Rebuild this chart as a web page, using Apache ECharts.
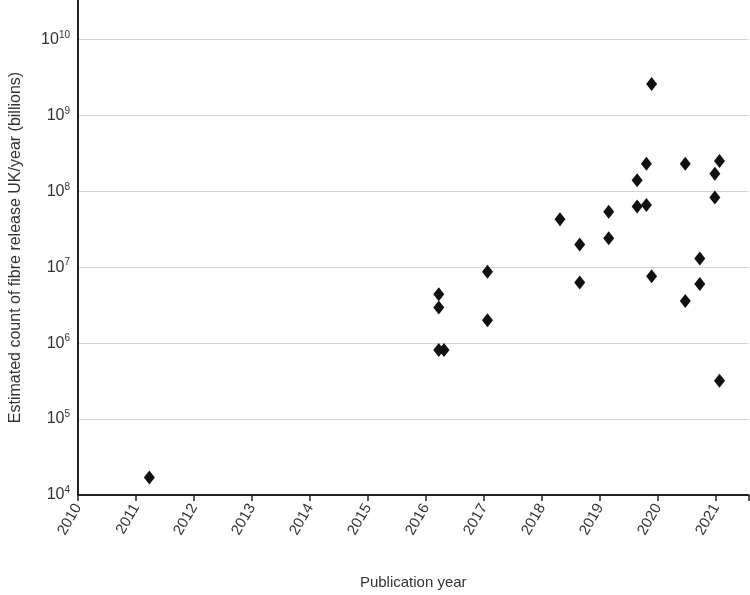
<!DOCTYPE html>
<html><head><meta charset="utf-8">
<script src="https://cdn.jsdelivr.net/npm/echarts@6/dist/echarts.min.js"></script>
<style>html,body{margin:0;padding:0;background:#fff}#c{width:750px;height:595px}</style>
</head><body><div id="c"></div>
<script>
const years = [2011.23,2016.22,2016.22,2016.22,2016.31,2017.06,2017.06,2018.31,2018.65,2018.65,2019.15,2019.15,2019.64,2019.64,2019.80,2019.80,2019.89,2019.89,2020.47,2020.47,2020.72,2020.72,2020.98,2020.98,2021.06,2021.06];
const counts = [1.7e4,4.4e6,2.95e6,8.1e5,8.1e5,8.7e6,2.0e6,4.3e7,2.0e7,6.3e6,5.4e7,2.4e7,1.4e8,6.3e7,2.3e8,6.6e7,2.6e9,7.6e6,2.3e8,3.6e6,1.3e7,6.0e6,1.7e8,8.3e7,2.5e8,3.2e5];
const xTicks = [2010,2011,2012,2013,2014,2015,2016,2017,2018,2019,2020,2021];
const chart = echarts.init(document.getElementById('c'));
const font = 'Liberation Sans, Arial, sans-serif';
chart.setOption({
  animation:false,
  grid:{left:68,right:0,top:0,bottom:98},
  xAxis:{type:'value',min:2010,max:2021.56,interval:1,
    axisLine:{lineStyle:{color:'#222',width:2}},
    axisTick:{show:true,length:6,lineStyle:{color:'#222',width:1.5}},
    splitLine:{show:false},
    axisLabel:{rotate:60,color:'#333',fontFamily:font,fontSize:15,margin:10,
      formatter:v=>xTicks.includes(Math.round(v))&&Math.abs(v-Math.round(v))<1e-6?String(Math.round(v)):''},
    name:'Publication year',nameLocation:'middle',nameGap:80,
    nameTextStyle:{color:'#333',fontFamily:font,fontSize:15}},
  yAxis:{type:'value',min:4,max:10.52,interval:1,
    axisLine:{show:true,lineStyle:{color:'#222',width:2}},
    axisTick:{show:false},
    splitLine:{show:true,showMaxLine:false,lineStyle:{color:'#d4d4d4',width:1}},
    axisLabel:{color:'#333',margin:8,showMaxLabel:false,
      formatter:v=>{const e=Math.round(v);return '{b|10}{s|'+e+'}';},
      rich:{b:{fontFamily:font,fontSize:16,color:'#333'},s:{fontFamily:font,fontSize:10,color:'#333',verticalAlign:'top',padding:[0,0,9,0]}}},
    name:'Estimated count of fibre release UK/year (billions)',nameLocation:'middle',nameGap:54,
    nameTextStyle:{color:'#333',fontFamily:font,fontSize:16}},
  series:[{type:'scatter',symbol:'diamond',symbolSize:[11,14],
    itemStyle:{color:'#111',opacity:1},
    data:years.map((y,i)=>[y,Math.log10(counts[i])])}]
});
</script></body></html>
